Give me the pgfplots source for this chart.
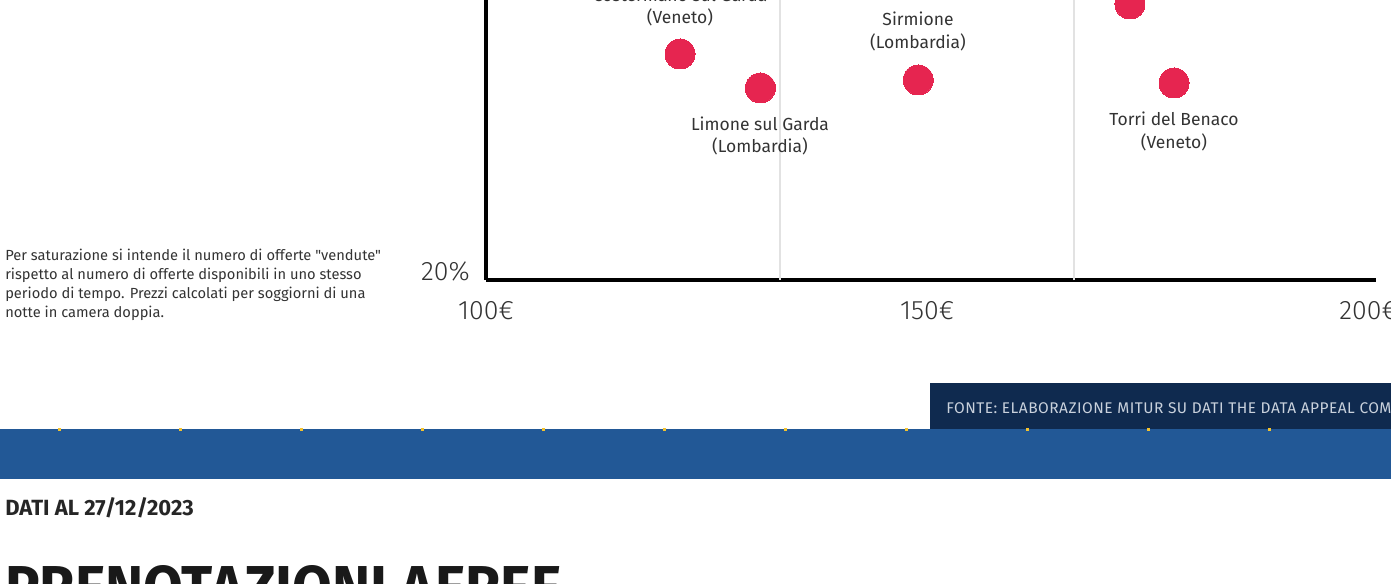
\documentclass[border=0pt]{standalone}
\usepackage{pgfplots}
\pgfplotsset{compat=1.18}
\usepackage{fontspec}
\setmainfont{Fira Sans}[Ligatures=TeXOff]
\newfontfamily\lightfont{Fira Sans Light}
\definecolor{dot}{HTML}{E62550}
\definecolor{txt}{HTML}{333333}
\definecolor{navy}{HTML}{0F2A4F}
\definecolor{band}{HTML}{225896}
\definecolor{gridc}{HTML}{E2E2E2}
\definecolor{fonte}{HTML}{C9D1DC}
\definecolor{star}{HTML}{F2C230}
\begin{document}
\begin{tikzpicture}
\useasboundingbox (0pt,0pt) rectangle (1043.25pt,-438pt);
\clip (0pt,0pt) rectangle (1043.25pt,-438pt);
\begin{axis}[
  at={(364.5pt,-210pt)}, anchor=south west,
  scale only axis, width=667.5pt, height=210pt,
  xmin=100, xmax=200.9, ymin=20, ymax=48,
  clip=false,
  axis lines=left,
  axis line style={line width=3pt, black, -},
  xtick={100,150,200}, xticklabels={100€,150€,200€},
  ytick={20}, yticklabels={20\%},
  major tick length=0pt,
  tick label style={font=\lightfont\fontsize{20}{22}\selectfont, text=txt, inner sep=0pt},
  xticklabel style={anchor=center, yshift=-23.25pt},
  yticklabel style={anchor=east, xshift=-12pt, yshift=6.75pt},
  extra x ticks={133.33,166.67},
  extra x tick labels={},
  extra x tick style={grid=major, major grid style={gridc, line width=1.5pt}, major tick length=0pt},
]
\addplot[dot, only marks, mark=*, mark size=11.25pt, mark options={draw=dot, fill=dot, line width=0pt}]
  coordinates {(122.0,42.6) (131.1,39.2) (149.0,40.0) (173.0,47.6) (178.0,39.7)};
\end{axis}
\begin{scope}[x=0.75pt,y=-0.75pt]
\begin{scope}[every node/.style={text=txt, align=center, font=\fontsize{13.1}{16.8}\selectfont, inner sep=0pt}]
\node at (680,7.5) {Costermano sul Garda\\(Veneto)};
\node at (918,31.5) {Sirmione\\(Lombardia)};
\node at (760,136) {Limone sul Garda\\(Lombardia)};
\node at (1174,131.5) {Torri del Benaco\\(Veneto)};
\end{scope}
\node[anchor=north west, inner sep=0pt, align=left, text=txt, font=\fontsize{11}{14.25}\selectfont] at (5,249)
 {Per saturazione si intende il numero di offerte "vendute"\\rispetto al numero di offerte disponibili in uno stesso\\periodo di tempo. Prezzi calcolati per soggiorni di una\\notte in camera doppia.};
\fill[navy] (930,383) rectangle (1391,429);
\fill[band] (0,429) rectangle (1391,479);
\foreach \k in {0,...,10} { \fill[star] (58+121*\k,428) rectangle (61+121*\k,431); }
\node[anchor=west, inner sep=0pt, text=fonte, font=\fontsize{11.6}{13}\selectfont\addfontfeature{LetterSpace=3.2}] at (946,408) {FONTE: ELABORAZIONE MITUR SU DATI THE DATA APPEAL COMPANY};
\node[anchor=west, inner sep=0pt, text=black!85, font=\bfseries\fontsize{16.5}{18}\selectfont] at (5,508) {DATI AL 27/12/2023};
\node[anchor=base west, inner sep=0pt, text=black!90, font=\bfseries\fontsize{46.5}{50}\selectfont] at (5,609) {\scalebox{0.93}[1]{PRENOTAZIONI AEREE}};
\end{scope}
\end{tikzpicture}
\end{document}
